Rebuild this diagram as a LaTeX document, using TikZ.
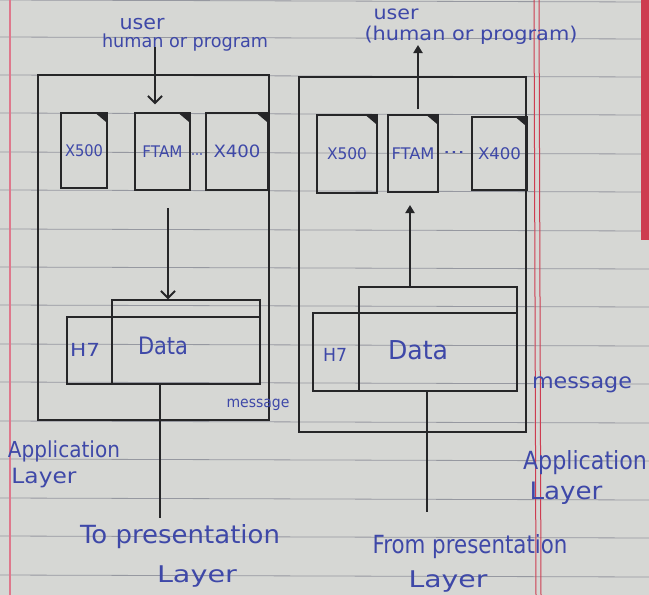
\documentclass[tikz,border=0pt]{standalone}
\usepackage{fontspec}
\usepackage{graphicx}
\newfontfamily\hand{DejaVu Sans}
\usetikzlibrary{arrows.meta}
\definecolor{paper}{RGB}{214,215,212}
\definecolor{rulecol}{RGB}{150,152,160}
\definecolor{ink}{RGB}{62,72,168}
\definecolor{pen}{RGB}{38,38,40}
\definecolor{margincol}{RGB}{222,120,140}
\definecolor{redline}{RGB}{205,60,80}
\newlength\hwlen
\newcommand\hw[3][16]{\settowidth\hwlen{\fontsize{#1}{#1}\selectfont\hand #3}%
  \scalebox{\fpeval{(#2)/(\the\hwlen)}}[1]{\fontsize{#1}{#1}\selectfont\hand #3}}
\newcommand\dogear[1]{\fill[pen] ([xshift=-13pt]#1.north east) -- (#1.north east) -- ([yshift=-11pt]#1.north east) -- cycle;}
\begin{document}
\begin{tikzpicture}[x=1pt,y=-1pt,
  penline/.style={draw=pen,line width=1.3pt},
  frame/.style={penline,inner sep=0pt},
  sbox/.style={penline,inner sep=0pt,text=ink},
  lbl/.style={text=ink,inner sep=0pt},
  arrL/.style={draw=pen,line width=2pt,-{Straight Barb[length=7pt,width=14pt]}},
  arrR/.style={draw=pen,line width=2.2pt,-{Triangle[length=8pt,width=9pt]}},
  wire/.style={draw=pen,line width=2.6pt}
]
\useasboundingbox (0,0) rectangle (649,595);
% paper
\fill[paper] (0,0) rectangle (649,595);
\foreach \yy in {0,37,75,113,152,190,229,267,305,344,382,421,459,498,536,575}
  \draw[rulecol,line width=0.8pt] (0,\yy) -- (649,\yy+2);
\draw[margincol,line width=1.6pt] (10,0) -- (10,595);
\draw[redline,line width=1pt] (534,0) -- (536,595);
\draw[redline,line width=1pt] (539,0) -- (541,595);
\fill[redline] (641,0) rectangle (649,240);

% outer frames
\node[frame,minimum width=231pt,minimum height=345pt] (appL) at (153.5,247.5) {};
\node[frame,minimum width=227pt,minimum height=355pt] (appR) at (412.5,254.5) {};

% left small boxes
\node[sbox,minimum width=46pt,minimum height=75pt] (x500L) at (84,150.5) {\hw[16]{38}{X500}};
\node[sbox,minimum width=55pt,minimum height=77pt] (ftamL) at (162.5,151.5) {\hw[16]{40}{FTAM}};
\node[sbox,minimum width=62pt,minimum height=77pt] (x400L) at (237,151.5) {\hw[17]{47}{X400}};
\dogear{x500L}\dogear{ftamL}\dogear{x400L}
\node[lbl] (dotsL) at (197,155) {\hw[16]{12}{...}};

% right small boxes
\node[sbox,minimum width=60pt,minimum height=78pt] (x500R) at (347,154) {\hw[16]{40}{X500}};
\node[sbox,minimum width=50pt,minimum height=77pt] (ftamR) at (413,153.5) {\hw[16]{43}{FTAM}};
\node[sbox,minimum width=55pt,minimum height=73pt] (x400R) at (499.5,153.5) {\hw[16]{43}{X400}};
\dogear{x500R}\dogear{ftamR}\dogear{x400R}
\node[lbl] (dotsR) at (454,153) {\hw[16]{22}{...}};

% data boxes
\node[frame,minimum width=193pt,minimum height=67pt] (h7L) at (163.5,350.5) {};
\node[frame,minimum width=148pt,minimum height=84pt] (dataL) at (186,342) {};
\node[lbl] (h7Llbl) at (85,350) {\hw[18]{30}{H7}};
\node[lbl] (dataLlbl) at (163,346) {\hw[24]{50}{Data}};

\node[frame,minimum width=204pt,minimum height=78pt] (h7R) at (415,352) {};
\node[frame,minimum width=158pt,minimum height=104pt] (dataR) at (438,339) {};
\node[lbl] (h7Rlbl) at (335,355) {\hw[18]{24}{H7}};
\node[lbl] (dataRlbl) at (418,350) {\hw[26]{60}{Data}};

% texts
\node[lbl] (userL) at (142,24) {\hw[20]{45}{user}};
\node[lbl] (hpL) at (185,43) {\hw[18]{166}{human or program}};
\node[lbl] (userR) at (396,14) {\hw[19]{45}{user}};
\node[lbl] (hpR) at (471,35) {\hw[19]{213}{(human or program)}};
\node[lbl] (msgL) at (258,405) {\hw[15]{63}{message}};
\node[lbl] (msgR) at (582,385) {\hw[21]{100}{message}};
\node[lbl] (appL1) at (64,451) {\hw[22]{112}{Application}};
\node[lbl] (appL2) at (44,478) {\hw[21]{65}{Layer}};
\node[lbl] (appR1) at (585,463) {\hw[25]{124}{Application}};
\node[lbl] (appR2) at (566,493) {\hw[24]{73}{Layer}};
\node[lbl] (toP1) at (180,537) {\hw[25]{200}{To presentation}};
\node[lbl] (toP2) at (197,577) {\hw[23]{80}{Layer}};
\node[lbl] (frP1) at (470,547) {\hw[25]{195}{From presentation}};
\node[lbl] (frP2) at (448,582) {\hw[23]{79}{Layer}};

% connectors
\coordinate (uL) at (155,47);
\draw[arrL] (uL) -- ([yshift=8pt]uL |- ftamL.north);
\coordinate (aL) at (168,208);
\draw[arrL] (aL) -- (aL |- dataL.north);
\coordinate (toPend) at (160,518);
\draw[wire] (toPend |- dataL.south) -- (toPend);

\coordinate (uR) at (418,45);
\draw[arrR] ([yshift=5pt]uR |- ftamR.north) -- (uR);
\coordinate (aR) at (410,205);
\draw[arrR] (aR |- dataR.north) -- (aR);
\coordinate (frPend) at (427,512);
\draw[wire] (frPend |- dataR.south) -- (frPend);
\end{tikzpicture}
\end{document}
